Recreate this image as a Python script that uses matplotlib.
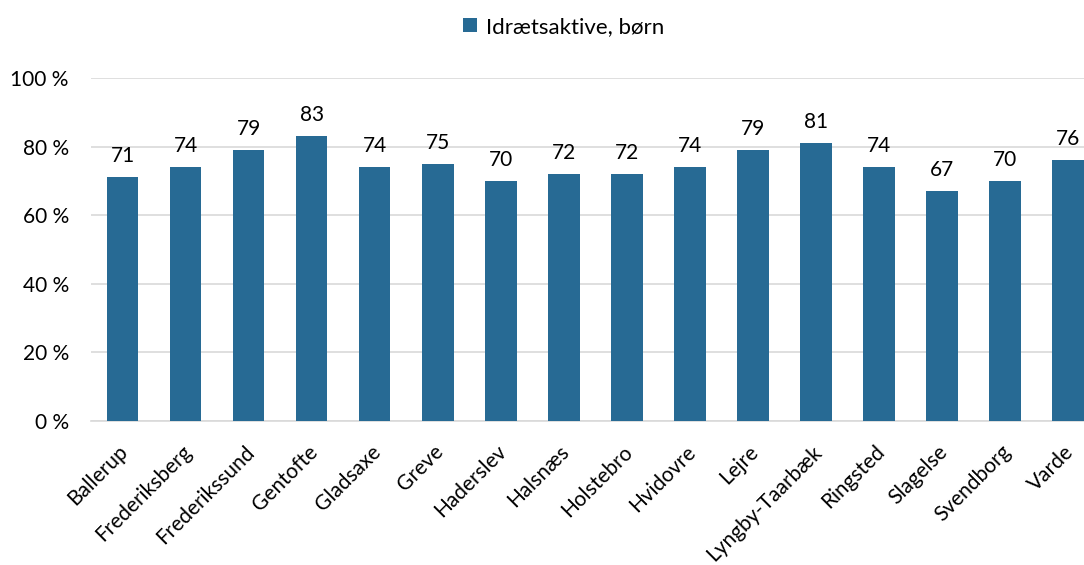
import matplotlib
matplotlib.use("Agg")
import matplotlib.pyplot as plt
from matplotlib.ticker import FuncFormatter
from matplotlib.transforms import ScaledTranslation

categories = ["Ballerup", "Frederiksberg", "Frederikssund", "Gentofte", "Gladsaxe",
              "Greve", "Haderslev", "Halsnæs", "Holstebro", "Hvidovre", "Lejre",
              "Lyngby-Taarbæk", "Ringsted", "Slagelse", "Svendborg", "Varde"]
values = [71, 74, 79, 83, 74, 75, 70, 72, 72, 74, 79, 81, 74, 67, 70, 76]
series_name = "Idrætsaktive, børn"
yticks = [0, 20, 40, 60, 80, 100]

plt.rcParams['font.family'] = ['Lato', 'DejaVu Sans']

W, H = 1084, 565
fig = plt.figure(figsize=(W / 100, H / 100), dpi=100)
left, right, bottom, top = 91, 1084, 421, 78
ax = fig.add_axes([left / W, 1 - bottom / H, (right - left) / W, (bottom - top) / H])

color = "#276A94"
x = range(len(categories))
bars = ax.bar(x, values, width=0.5, color=color, label=series_name, zorder=3)

for xi, v in zip(x, values):
    ax.annotate(f"{v}", (xi, v), xytext=(0, 8), textcoords="offset points",
                ha="center", va="bottom", fontsize=15, color="#000000")

ax.set_ylim(0, 100)
ax.set_xlim(-0.5, 15.25)
ax.set_yticks(yticks)
ax.yaxis.set_major_formatter(FuncFormatter(lambda v, p: f"{int(v)} %"))
ax.grid(axis="y", color="#d9d9d9", linewidth=1.2, zorder=0)
ax.set_xticks(list(x))
ax.set_xticklabels(categories, rotation=45, ha="right", va="center",
                   rotation_mode="anchor", fontsize=15)
ax.tick_params(axis="y", length=0, labelsize=15, pad=16)
ax.tick_params(axis="x", length=0, pad=20)
shift = ScaledTranslation(0.025, 0, fig.dpi_scale_trans)
for lab in ax.get_xticklabels():
    lab.set_transform(lab.get_transform() + shift)
for s in ["top", "right", "left"]:
    ax.spines[s].set_visible(False)
ax.spines["bottom"].set_color("#d9d9d9")
ax.spines["bottom"].set_linewidth(1.2)

fig.legend(handles=[bars], labels=[series_name], loc="center", bbox_to_anchor=(0.52, 1 - 27 / H),
           frameon=False, fontsize=16, handlelength=0.6, handleheight=0.6, handletextpad=0.4)

fig.savefig("out.png", dpi=100)
